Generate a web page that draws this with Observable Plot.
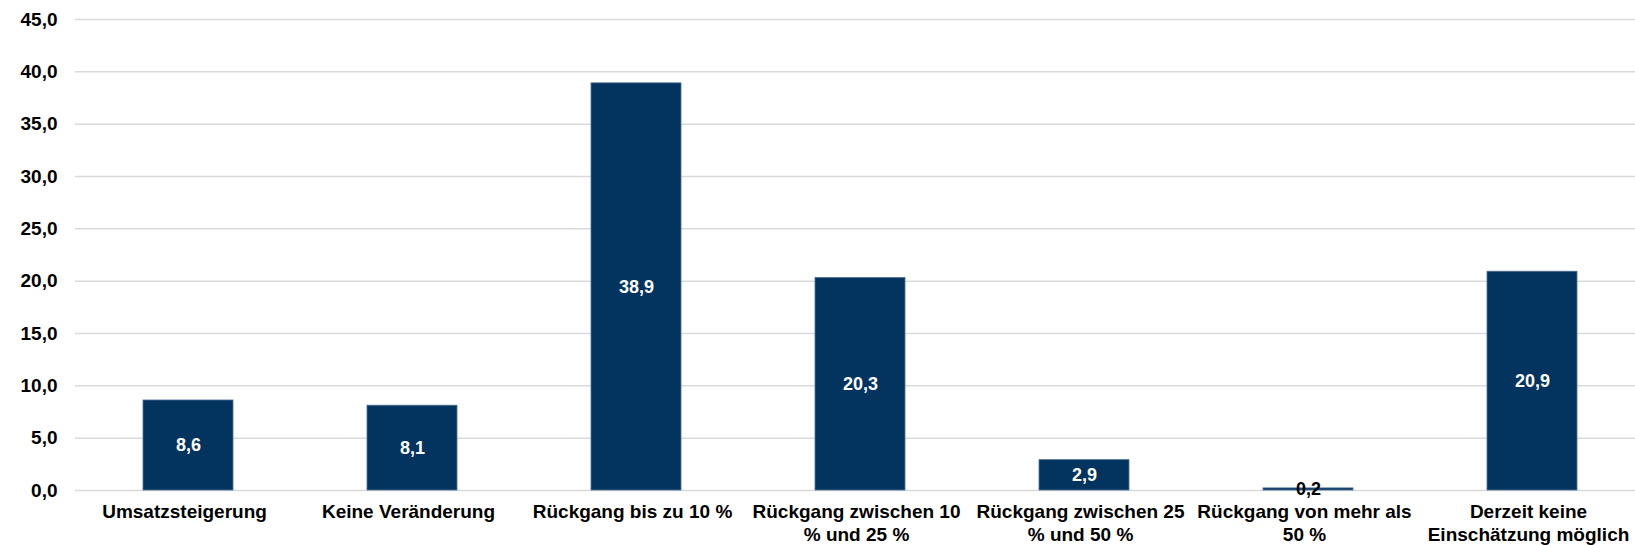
<!DOCTYPE html>
<html>
<head>
<meta charset="utf-8">
<script src="https://cdn.jsdelivr.net/npm/d3@7"></script>
<script src="https://cdn.jsdelivr.net/npm/@observablehq/plot@0.6"></script>
<style>
  html, body { margin: 0; padding: 0; background: #fff; }
  svg { display: block; }
</style>
</head>
<body>
<div id="chart"></div>
<script>
const categories = [
  "Umsatzsteigerung",
  "Keine Veränderung",
  "Rückgang bis zu 10 %",
  "Rückgang zwischen 10 % und 25 %",
  "Rückgang zwischen 25 % und 50 %",
  "Rückgang von mehr als 50 %",
  "Derzeit keine Einschätzung möglich"
];
const tickLabels = [
  "Umsatzsteigerung",
  "Keine Veränderung",
  "Rückgang bis zu 10 %",
  "Rückgang zwischen 10\n% und 25 %",
  "Rückgang zwischen 25\n% und 50 %",
  "Rückgang von mehr als\n50 %",
  "Derzeit keine\nEinschätzung möglich"
];
const values = [8.6, 8.1, 38.9, 20.3, 2.9, 0.2, 20.9];
const yTicks = [0, 5, 10, 15, 20, 25, 30, 35, 40, 45];

const data = categories.map((c, i) => ({category: c, value: values[i], label: tickLabels[i]}));
const labelOf = new Map(data.map(d => [d.category, d.label]));
const fmt = v => v.toFixed(1).replace(".", ",");

const chart = Plot.plot({
  width: 1635,
  height: 545,
  marginLeft: 75,
  marginRight: 0,
  marginTop: 19,
  marginBottom: 55,
  style: {fontFamily: "'Liberation Sans', Arial, sans-serif", background: "#fff"},
  x: {domain: categories, range: [75, 1645], paddingInner: 0.6, paddingOuter: 0.3},
  y: {domain: [0, 45]},
  marks: [
    Plot.gridY(yTicks, {stroke: "#d9d9d9", strokeOpacity: 1, strokeWidth: 1.5}),
    Plot.axisY(yTicks, {
      tickSize: 0, tickPadding: 18, tickFormat: fmt,
      fontSize: 19, fontWeight: "bold", fill: "#000", label: null
    }),
    Plot.axisX({
      tickSize: 0, tickPadding: 11, tickFormat: c => labelOf.get(c), dx: -4,
      fontSize: 19, fontWeight: "bold", fill: "#000", label: null, lineHeight: 1.22
    }),
    Plot.barY(data, {x: "category", y: "value", fill: "#03345f", stroke: "#4f6f95", strokeWidth: 0.8}),
    Plot.text(data, {
      x: "category", y: d => d.value / 2, text: d => fmt(d.value),
      fill: d => d.value < 1 ? "#000" : "#fff",
      fontSize: 18, fontWeight: "bold"
    })
  ]
});
document.getElementById("chart").appendChild(chart);
</script>
</body>
</html>
